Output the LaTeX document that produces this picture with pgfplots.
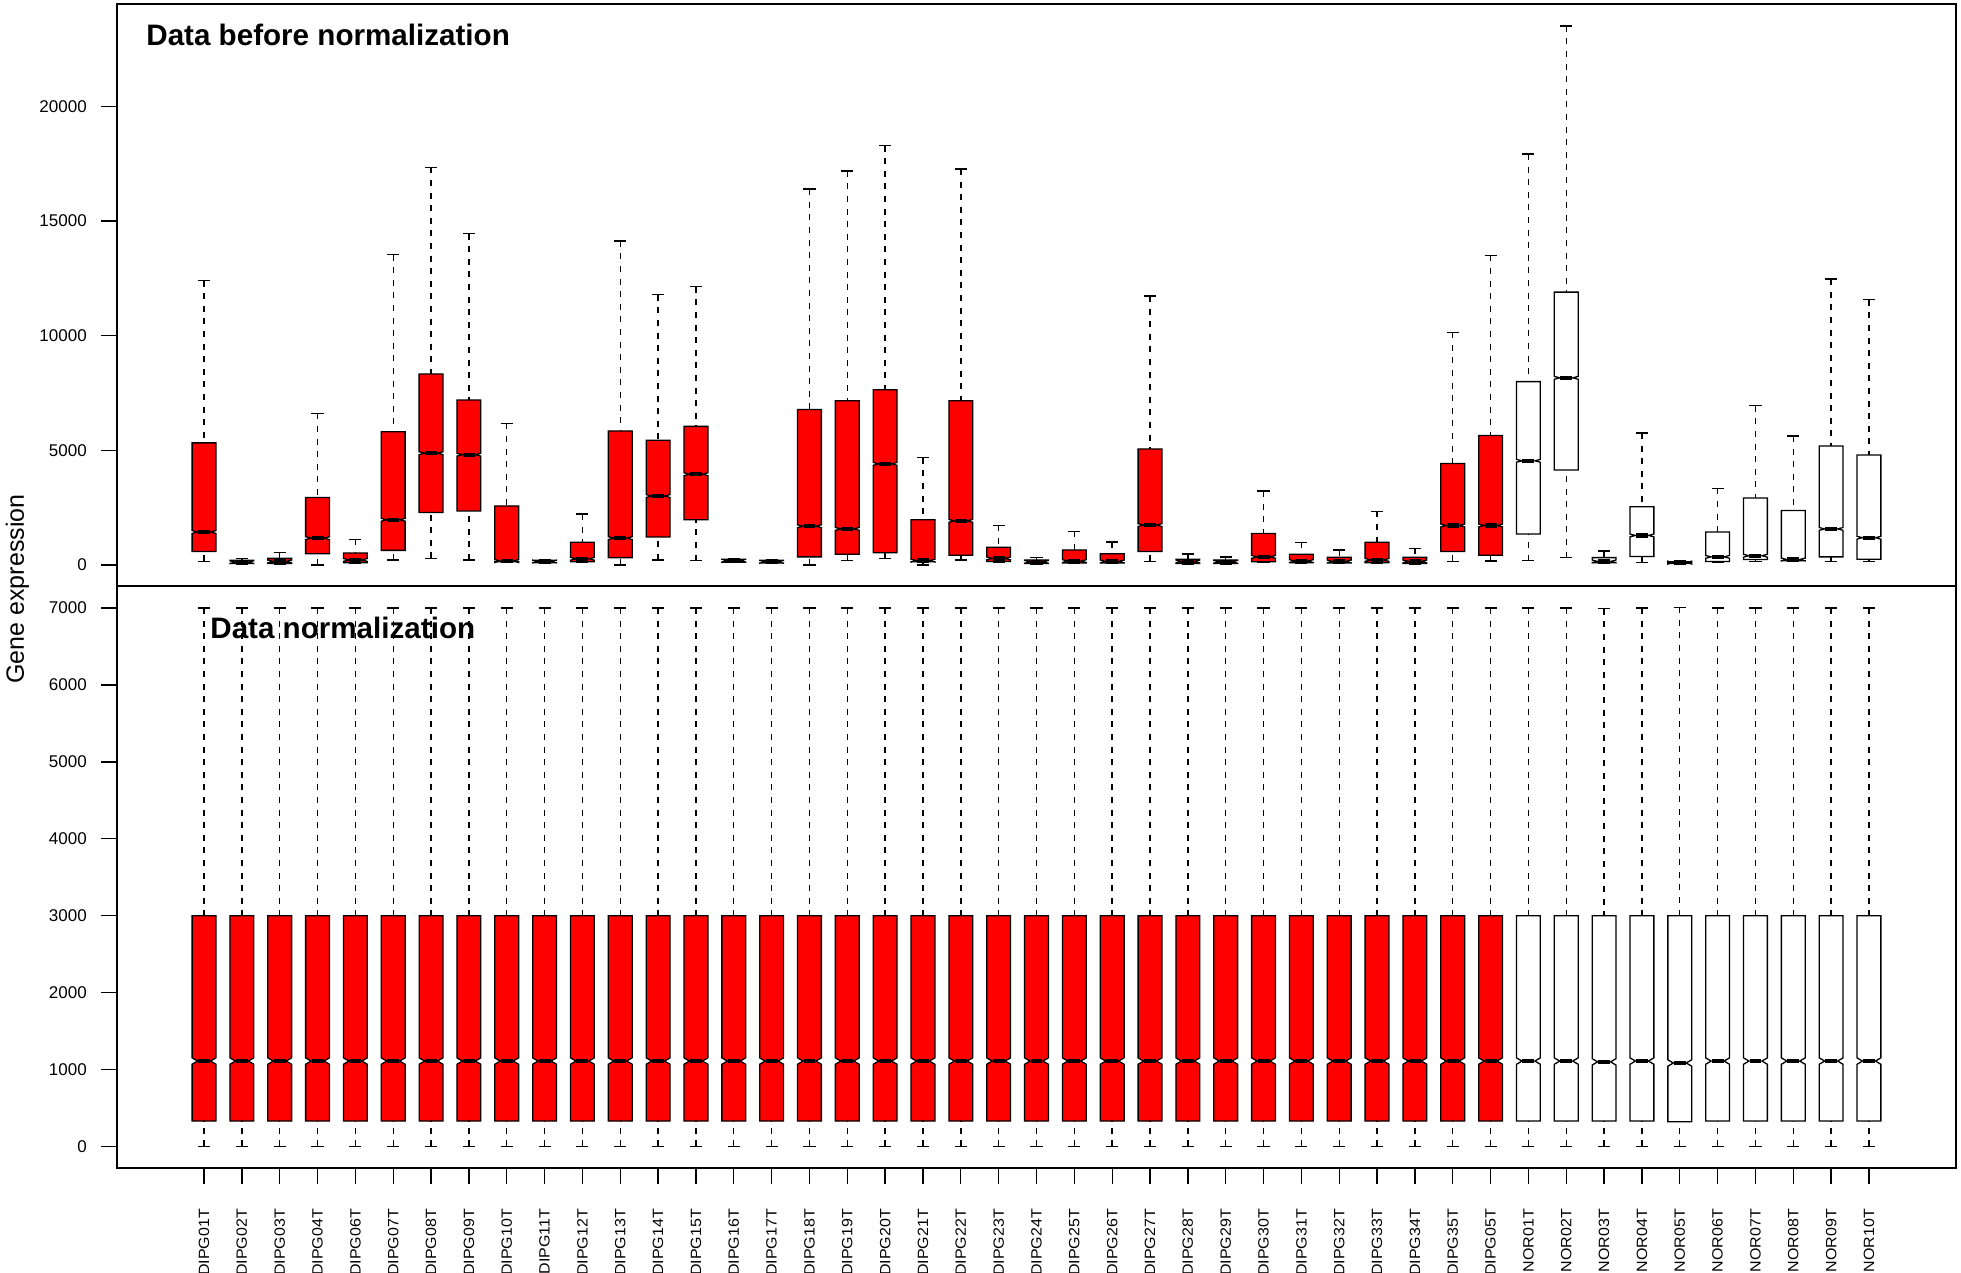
\documentclass[border=0pt]{standalone}
\usepackage{fontspec}
\setmainfont{Liberation Sans}
\usepackage{pgfplots}
\pgfplotsset{compat=1.18}
\usepgfplotslibrary{statistics}
\pgfplotsset{
  notchd/.initial=1pt,
  D/.style={boxplot/every box/.style={fill=red,draw=black,line width=0.65pt}},
  N/.style={boxplot/every box/.style={fill=white,draw=black,line width=0.65pt}},
  panel/.style={
    scale only axis, width=919.5pt,
    xmin=-1.3, xmax=47.3,
    axis line style={line width=0.9pt},
    tick style={line width=0.65pt, black},
    tick align=outside, major tick length=7.8pt,
    ytick pos=left,
    yticklabel style={font=\fontsize{8.5}{10}\selectfont, xshift=-3.8pt},
    /pgf/number format/assume math mode=true,
    /pgf/number format/1000 sep={},
    scaled y ticks=false,
    boxplot/draw direction=y,
    boxplot/box extend=0.63,
    boxplot/whisker extend=0.32,
    boxplot/draw/box/.code={%
      \draw[/pgfplots/boxplot/every box/.try]
        (boxplot box cs:\pgfplotsboxplotvalue{lower quartile},0) --
        ([yshift=-\pgfkeysvalueof{/pgfplots/notchd}]boxplot box cs:\pgfplotsboxplotvalue{median},0) --
        (boxplot box cs:\pgfplotsboxplotvalue{median},0.23) --
        ([yshift=\pgfkeysvalueof{/pgfplots/notchd}]boxplot box cs:\pgfplotsboxplotvalue{median},0) --
        (boxplot box cs:\pgfplotsboxplotvalue{upper quartile},0) --
        (boxplot box cs:\pgfplotsboxplotvalue{upper quartile},1) --
        ([yshift=\pgfkeysvalueof{/pgfplots/notchd}]boxplot box cs:\pgfplotsboxplotvalue{median},1) --
        (boxplot box cs:\pgfplotsboxplotvalue{median},0.77) --
        ([yshift=-\pgfkeysvalueof{/pgfplots/notchd}]boxplot box cs:\pgfplotsboxplotvalue{median},1) --
        (boxplot box cs:\pgfplotsboxplotvalue{lower quartile},1) -- cycle;
    },
    boxplot/draw/median/.code={%
      \draw[line width=2.2pt, black]
        (boxplot box cs:\pgfplotsboxplotvalue{median},0.25) --
        (boxplot box cs:\pgfplotsboxplotvalue{median},0.75);
    },
    boxplot/draw/lower whisker/.code={%
      \draw[black, line width=0.7pt, dash pattern=on 3pt off 3.3pt]
        (boxplot cs:\pgfplotsboxplotvalue{lower whisker}) --
        (boxplot cs:\pgfplotsboxplotvalue{lower quartile});
      \draw[black, line width=0.7pt]
        (boxplot whisker cs:\pgfplotsboxplotvalue{lower whisker},0) --
        (boxplot whisker cs:\pgfplotsboxplotvalue{lower whisker},1);
    },
    boxplot/draw/upper whisker/.code={%
      \draw[black, line width=0.7pt, dash pattern=on 3pt off 3.3pt]
        (boxplot cs:\pgfplotsboxplotvalue{upper whisker}) --
        (boxplot cs:\pgfplotsboxplotvalue{upper quartile});
      \draw[black, line width=0.7pt]
        (boxplot whisker cs:\pgfplotsboxplotvalue{upper whisker},0) --
        (boxplot whisker cs:\pgfplotsboxplotvalue{upper whisker},1);
    },
  },
}
\newcommand\bx[7]{\addplot[#1, boxplot prepared={draw position=#2, lower whisker=#3, lower quartile=#4, median=#5, upper quartile=#6, upper whisker=#7}] coordinates {};}
\begin{document}
\begin{tikzpicture}
\path[use as bounding box] (0,0) rectangle (980.5pt,636.5pt);
% ---------- top panel ----------
\begin{axis}[panel, at={(58.5pt,343.5pt)}, anchor=south west, height=291pt,
  ymin=-920, ymax=24470, ytick={0,5000,10000,15000,20000}, xtick=\empty,
  notchd=0.7pt]
\bx{D}{1}{150}{584}{1435}{5324}{12401}
\bx{D}{2}{33}{67}{117}{200}{267}
\bx{D}{3}{33}{67}{150}{284}{551}
\bx{D}{4}{0}{484}{1168}{2937}{6609}
\bx{D}{5}{67}{100}{217}{517}{1118}
\bx{D}{6}{217}{634}{1969}{5808}{13536}
\bx{D}{7}{284}{2287}{4873}{8328}{17341}
\bx{D}{8}{217}{2353}{4807}{7193}{14454}
\bx{D}{9}{100}{134}{167}{2570}{6175}
\bx{D}{10}{67}{100}{150}{200}{234}
\bx{D}{11}{100}{134}{267}{985}{2220}
\bx{D}{12}{0}{317}{1168}{5842}{14136}
\bx{D}{13}{217}{1218}{3004}{5441}{11783}
\bx{D}{14}{184}{1969}{3956}{6042}{12134}
\bx{D}{15}{100}{117}{184}{250}{284}
\bx{D}{16}{50}{83}{134}{200}{217}
\bx{D}{17}{0}{350}{1686}{6776}{16390}
\bx{D}{18}{200}{467}{1569}{7160}{17191}
\bx{D}{19}{267}{534}{4406}{7644}{18292}
\bx{D}{20}{0}{134}{184}{1969}{4673}
\bx{D}{21}{217}{417}{1919}{7160}{17274}
\bx{D}{22}{100}{150}{284}{768}{1719}
\bx{D}{23}{33}{67}{134}{217}{317}
\bx{D}{24}{50}{83}{167}{651}{1469}
\bx{D}{25}{50}{83}{150}{484}{1001}
\bx{D}{26}{150}{584}{1736}{5057}{11733}
\bx{D}{27}{33}{67}{150}{250}{467}
\bx{D}{28}{33}{67}{134}{217}{350}
\bx{D}{29}{100}{134}{350}{1369}{3221}
\bx{D}{30}{67}{100}{167}{467}{985}
\bx{D}{31}{50}{83}{150}{334}{651}
\bx{D}{32}{67}{100}{217}{985}{2337}
\bx{D}{33}{33}{67}{150}{334}{718}
\bx{D}{34}{150}{584}{1719}{4423}{10148}
\bx{D}{35}{167}{417}{1719}{5641}{13502}
\bx{N}{36}{184}{1352}{4540}{7995}{17925}
\bx{N}{37}{317}{4139}{8161}{11900}{23516}
\bx{N}{38}{67}{100}{150}{317}{601}
\bx{N}{39}{100}{367}{1285}{2537}{5758}
\bx{N}{40}{50}{67}{100}{134}{150}
\bx{N}{41}{117}{150}{350}{1435}{3338}
\bx{N}{42}{150}{234}{401}{2921}{6943}
\bx{N}{43}{150}{184}{234}{2370}{5625}
\bx{N}{44}{150}{350}{1569}{5191}{12467}
\bx{N}{45}{150}{250}{1185}{4790}{11566}
\end{axis}
% ---------- bottom panel ----------
\begin{axis}[panel, at={(58.5pt,52.5pt)}, anchor=south west, height=290.75pt,
  ymin=-280, ymax=7280, ytick={0,1000,...,7000},
  xtick={1,...,45}, xtick pos=bottom,
  xticklabels={DIPG01T,DIPG02T,DIPG03T,DIPG04T,DIPG06T,DIPG07T,DIPG08T,DIPG09T,DIPG10T,DIPG11T,DIPG12T,DIPG13T,DIPG14T,DIPG15T,DIPG16T,DIPG17T,DIPG18T,DIPG19T,DIPG20T,DIPG21T,DIPG22T,DIPG23T,DIPG24T,DIPG25T,DIPG26T,DIPG27T,DIPG28T,DIPG29T,DIPG30T,DIPG31T,DIPG32T,DIPG33T,DIPG34T,DIPG35T,DIPG05T,NOR01T,NOR02T,NOR03T,NOR04T,NOR05T,NOR06T,NOR07T,NOR08T,NOR09T,NOR10T},
  xticklabel style={yshift=-12.5pt, rotate=90, anchor=east, inner sep=0pt, yscale=0.93, font=\fontsize{8}{10}\selectfont},
  notchd=1.6pt]
\bx{D}{1}{0}{330}{1110}{3000}{7000}
\bx{D}{2}{0}{330}{1110}{3000}{7000}
\bx{D}{3}{0}{330}{1110}{3000}{7000}
\bx{D}{4}{0}{330}{1110}{3000}{7000}
\bx{D}{5}{0}{330}{1110}{3000}{7000}
\bx{D}{6}{0}{330}{1110}{3000}{7000}
\bx{D}{7}{0}{330}{1110}{3000}{7000}
\bx{D}{8}{0}{330}{1110}{3000}{7000}
\bx{D}{9}{0}{330}{1110}{3000}{7000}
\bx{D}{10}{0}{330}{1110}{3000}{7000}
\bx{D}{11}{0}{330}{1110}{3000}{7000}
\bx{D}{12}{0}{330}{1110}{3000}{7000}
\bx{D}{13}{0}{330}{1110}{3000}{7000}
\bx{D}{14}{0}{330}{1110}{3000}{7000}
\bx{D}{15}{0}{330}{1110}{3000}{7000}
\bx{D}{16}{0}{330}{1110}{3000}{7000}
\bx{D}{17}{0}{330}{1110}{3000}{7000}
\bx{D}{18}{0}{330}{1110}{3000}{7000}
\bx{D}{19}{0}{330}{1110}{3000}{7000}
\bx{D}{20}{0}{330}{1110}{3000}{7000}
\bx{D}{21}{0}{330}{1110}{3000}{7000}
\bx{D}{22}{0}{330}{1110}{3000}{7000}
\bx{D}{23}{0}{330}{1110}{3000}{7000}
\bx{D}{24}{0}{330}{1110}{3000}{7000}
\bx{D}{25}{0}{330}{1110}{3000}{7000}
\bx{D}{26}{0}{330}{1110}{3000}{7000}
\bx{D}{27}{0}{330}{1110}{3000}{7000}
\bx{D}{28}{0}{330}{1110}{3000}{7000}
\bx{D}{29}{0}{330}{1110}{3000}{7000}
\bx{D}{30}{0}{330}{1110}{3000}{7000}
\bx{D}{31}{0}{330}{1110}{3000}{7000}
\bx{D}{32}{0}{330}{1110}{3000}{7000}
\bx{D}{33}{0}{330}{1110}{3000}{7000}
\bx{D}{34}{0}{330}{1110}{3000}{7000}
\bx{D}{35}{0}{330}{1110}{3000}{7000}
\bx{N}{36}{0}{330}{1110}{3000}{7000}
\bx{N}{37}{0}{330}{1110}{3000}{7000}
\bx{N}{38}{0}{330}{1100}{3000}{6990}
\bx{N}{39}{0}{330}{1110}{3000}{7000}
\bx{N}{40}{0}{320}{1085}{3000}{7010}
\bx{N}{41}{0}{330}{1110}{3000}{7000}
\bx{N}{42}{0}{330}{1110}{3000}{7000}
\bx{N}{43}{0}{330}{1110}{3000}{7000}
\bx{N}{44}{0}{330}{1110}{3000}{7000}
\bx{N}{45}{0}{330}{1110}{3000}{7000}
\end{axis}
\node[anchor=base west, inner sep=0pt, font=\bfseries\fontsize{14.8}{16}\selectfont] at (73pt,613.5pt) {Data before normalization};
\node[anchor=base west, inner sep=0pt, font=\bfseries\fontsize{14.8}{16}\selectfont] at (105pt,317pt) {Data normalization};
\node[rotate=90, anchor=base, inner sep=0pt, font=\fontsize{12.5}{14}\selectfont] at (12pt,342pt) {Gene expression};
\end{tikzpicture}
\end{document}
